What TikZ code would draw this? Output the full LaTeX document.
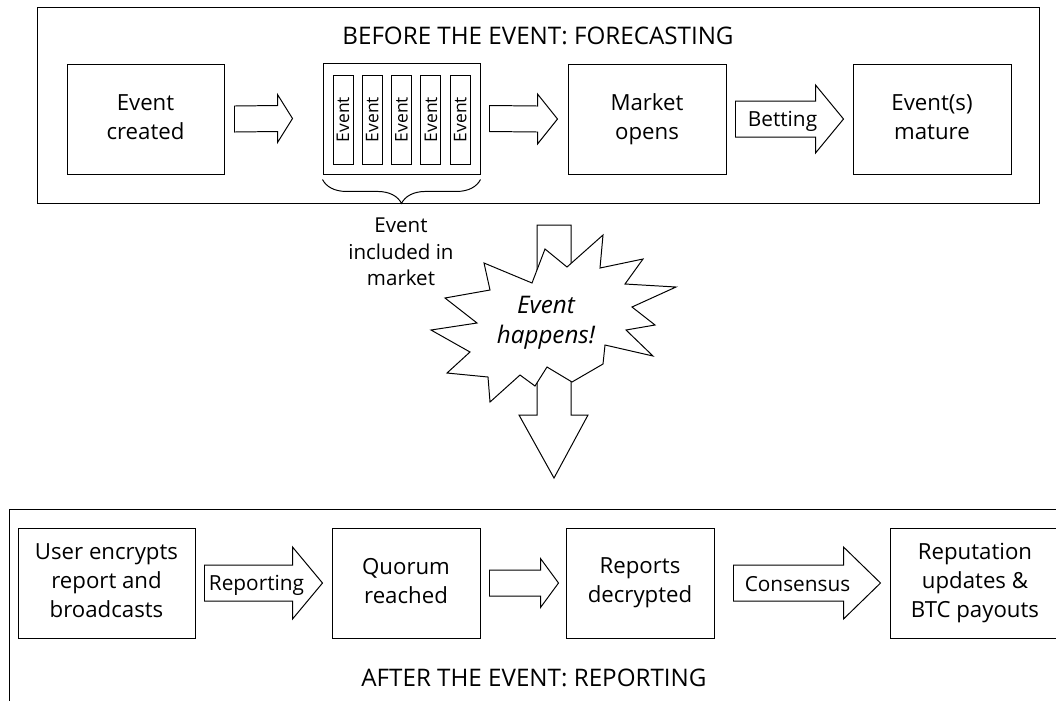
\documentclass[tikz,border=0pt]{standalone}
\usepackage{fontspec}
\setmainfont{Open Sans}
\usetikzlibrary{calc,decorations.pathreplacing}

\newcommand{\linestrut}{\rule[-0.14\baselineskip]{0pt}{0.86\baselineskip}}

\tikzset{
  box/.style 2 args={draw, line width=0.7pt, align=center, inner sep=0pt,
    minimum width=#1*0.025cm, minimum height=#2*0.025cm,
    font=\fontsize{15.8}{20.6}\selectfont,
    execute at begin node=\linestrut, execute at end node=\linestrut},
  bar/.style={draw, line width=0.7pt, inner sep=0pt, rotate=90,
    minimum width=89*0.025cm, minimum height=20*0.025cm,
    font=\fontsize{12.4}{14}\selectfont},
  hollow/.style={draw, fill=white, line width=0.7pt, line join=miter},
  frame/.style={draw, line width=0.7pt},
  title/.style={inner sep=0pt, font=\fontsize{17.2}{20.6}\selectfont},
  alabel/.style={inner sep=0pt, font=\fontsize{14.8}{20.6}\selectfont,
    execute at begin node=\linestrut},
}

% hollow block arrow: start, tip, shaft half width, head half width, head length
\newcommand{\blockarrow}[5]{%
  \draw[hollow] ($(#1)+(0,-#3)$) -- ($(#2)+(-#5,-#3)$) -- ($(#2)+(-#5,-#4)$) -- (#2)
    -- ($(#2)+(-#5,#4)$) -- ($(#2)+(-#5,#3)$) -- ($(#1)+(0,#3)$) -- cycle;}

\begin{document}
\begin{tikzpicture}[x=0.025cm, y=-0.025cm]
\useasboundingbox (0,0) rectangle (1056,700);
\clip (0,0) rectangle (1056,700);

% before the event
\draw[frame] (37,7) rectangle (1039,203);
\node[title] (before) at (538,36) {BEFORE THE EVENT: FORECASTING};

\node[box={157}{110}] (created) at (145.5,119) {Event\\created};
\node[box={157}{111}] (stack) at (401.5,118.5) {};
\foreach \i in {0,...,4}
  \node[bar] (ev\i) at ({343+29.3*\i},119.5) {Event};
\node[box={158}{110}] (market) at (647,119) {Market\\opens};
\node[box={158}{110}] (mature) at (932,119) {Event(s)\\mature};

% arrows between the boxes
\coordinate (a1s) at ($(created.east)+(10,0)$);
\coordinate (a1t) at ($(stack.west)+(-30,0)$);
\blockarrow{a1s}{a1t}{13}{24}{15}
\coordinate (a2s) at ($(stack.east)+(9,0)$);
\coordinate (a2t) at ($(market.west)+(-10,0)$);
\blockarrow{a2s}{a2t}{13}{25}{20}
\coordinate (a3s) at ($(market.east)+(9,0)$);
\coordinate (a3t) at ($(mature.west)+(-9,0)$);
\blockarrow{a3s}{a3t}{18}{34}{28}
\node[alabel] (betting) at ($(a3s)!0.5!(a3t)+(-7,0)$) {Betting};

% brace under the market
\draw[line width=0.7pt, decorate, decoration={brace, amplitude=17pt}]
  ($(stack.south east)+(0,5)$) -- ($(stack.south west)+(0,5)$);
\node[align=center, inner sep=0pt, font=\fontsize{14.6}{18.9}\selectfont]
  (incl) at (401,252) {Event\\included in\\market};

% event happens
\coordinate (dntop) at (554,225);
\coordinate (dntip) at (554,478);
\draw[hollow] (dntop) ++(-17,0) -- ++(34,0) -- (571,415) -- (588,415) -- (dntip)
  -- (519,415) -- (537,415) -- cycle;
\draw[hollow] (484,263) -- (532,283) -- (545,249) -- (567,267) -- (603,235)
  -- (600,268) -- (643,259) -- (625,284) -- (676,287) -- (632,307)
  -- (655,325) -- (626,330) -- (653,356) -- (605,345) -- (603,364)
  -- (572,382) -- (547,367) -- (535,386) -- (520,375) -- (490,402)
  -- (488,377) -- (447,373) -- (470,352) -- (431,330) -- (477,323)
  -- (445,298) -- (490,290) -- cycle;
\node[align=center, inner sep=0pt, font=\itshape\fontsize{17.2}{21.3}\selectfont]
  (happens) at (546,323) {Event\\happens!};

% after the event
\draw[frame] (9,509) rectangle (1080,720);
\node[title] (after) at (534,678) {AFTER THE EVENT: REPORTING};

\node[box={177}{110}] (encrypt) at (106.5,583) {User encrypts\\report and\\broadcasts};
\node[box={148}{110}] (quorum) at (406,583) {Quorum\\reached};
\node[box={148}{110}] (decrypt) at (640,583) {Reports\\decrypted};
\node[box={170}{110}] (reput) at (975,583) {Reputation\\updates \&\\BTC payouts};

\coordinate (b1s) at ($(encrypt.east)+(9,0)$);
\coordinate (b1t) at ($(quorum.west)+(-9,0)$);
\blockarrow{b1s}{b1t}{18}{36}{30}
\node[alabel] (reporting) at ($(b1s)!0.5!(b1t)+(-7,0)$) {Reporting};
\coordinate (b2s) at ($(quorum.east)+(9,0)$);
\coordinate (b2t) at ($(decrypt.west)+(-7,0)$);
\blockarrow{b2s}{b2t}{13}{24.5}{18}
\coordinate (b3s) at ($(decrypt.east)+(19,0)$);
\coordinate (b3t) at ($(reput.west)+(-9,0)$);
\blockarrow{b3s}{b3t}{18}{36}{37}
\node[alabel] (consensus) at ($(b3s)!0.5!(b3t)+(-9.5,0)$) {Consensus};

\end{tikzpicture}
\end{document}
